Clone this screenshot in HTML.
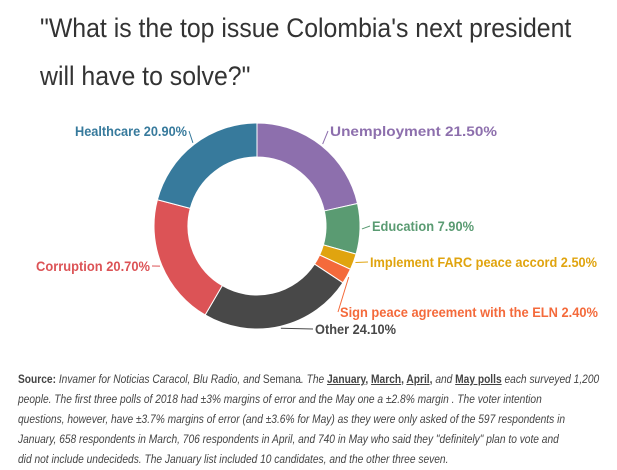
<!DOCTYPE html>
<html><head><meta charset="utf-8"><style>
body{margin:0;width:617px;height:466px;background:#fff;overflow:hidden;font-family:"Liberation Sans",sans-serif}
#title{position:absolute;left:40px;top:4px;margin:0;font-weight:normal;font-size:27px;line-height:48px;color:#333;white-space:nowrap;transform:scaleX(0.92);transform-origin:0 0}
#note{position:absolute;left:18px;top:370px;white-space:nowrap;font-size:11.5px;line-height:20px;color:#444;font-style:italic;transform:scaleX(0.887);transform-origin:0 0}
#note b,#note u{font-style:normal}
svg{position:absolute;left:0;top:0}
</style></head><body>
<h1 id="title">"What is the top issue Colombia's next president<br>will have to solve?"</h1>
<svg id="chart" width="617" height="370"></svg>
<div id="note"><b>Source:</b> Invamer for Noticias Caracol, Blu Radio, and <span style="font-style:normal">Semana</span>. The <b><u>January</u>, <u>March</u>, <u>April</u>,</b> and <b><u>May polls</u></b> each surveyed 1,200<br>people. The first three polls of 2018 had ±3% margins of error and the May one a ±2.8% margin . The voter intention<br>questions, however, have ±3.7% margins of error (and ±3.6% for May) as they were only asked of the 597 respondents in<br>January, 658 respondents in March, 706 respondents in April, and 740 in May who said they "definitely" plan to vote and<br>did not include undecideds. The January list included 10 candidates, and the other three seven.</div>
<script>
const categories=["Unemployment","Education","Implement FARC peace accord","Sign peace agreement with the ELN","Other","Corruption","Healthcare"];
const values=[21.5,7.9,2.5,2.4,24.1,20.7,20.9];
const valueLabels=["21.50%","7.90%","2.50%","2.40%","24.10%","20.70%","20.90%"];
const colors=["#8d6fad","#5a9b72","#e0a40f","#f46a3b","#484848","#dc5356","#377a9c"];
const labelPos=[[330,136,1,167],[372,231,1,102],[370,267,1,227],[340,317,1,258],[315,334,1,81],[36,271,0,114],[75,136,0,112]];
const svg=document.getElementById('chart');const NS="http://www.w3.org/2000/svg";
const cx=257,cy=226,R=103,r=69;
const total=values.reduce((a,b)=>a+b,0);
function pt(a,rad){return [cx+rad*Math.sin(a),cy-rad*Math.cos(a)];}
let acc=0;
values.forEach((v,i)=>{
 const a0=acc/total*2*Math.PI;acc+=v;const a1=acc/total*2*Math.PI;
 const lg=(a1-a0)>Math.PI?1:0;
 const p0=pt(a0,R),p1=pt(a1,R),q1=pt(a1,r),q0=pt(a0,r);
 const p=document.createElementNS(NS,'path');
 p.setAttribute('d',`M${p0}A${R},${R} 0 ${lg} 1 ${p1}L${q1}A${r},${r} 0 ${lg} 0 ${q0}Z`);
 p.setAttribute('fill',colors[i]);p.setAttribute('stroke','#fff');p.setAttribute('stroke-width','1');
 
 
 svg.appendChild(p);
 const am=(a0+a1)/2;const e=pt(am,R+2);const lp=labelPos[i];
 const ln=document.createElementNS(NS,'polyline');
 const lx=lp[2]?lp[0]-2:lp[0]+lp[3]+2;
 ln.setAttribute('points',`${e} ${lx},${lp[1]-5}`);
 ln.setAttribute('fill','none');ln.setAttribute('stroke',colors[i]);ln.setAttribute('stroke-width','1');
 
 
 svg.appendChild(ln);
 const t=document.createElementNS(NS,'text');
 t.setAttribute('x',lp[0]);t.setAttribute('y',lp[1]);
 t.setAttribute('fill',colors[i]);t.setAttribute('font-size','14');t.setAttribute('font-weight','bold');
 t.setAttribute('textLength',lp[3]);t.setAttribute('lengthAdjust','spacingAndGlyphs');
 t.textContent=categories[i]+" "+valueLabels[i];
 
 
 svg.appendChild(t);
});
</script>
</body></html>
